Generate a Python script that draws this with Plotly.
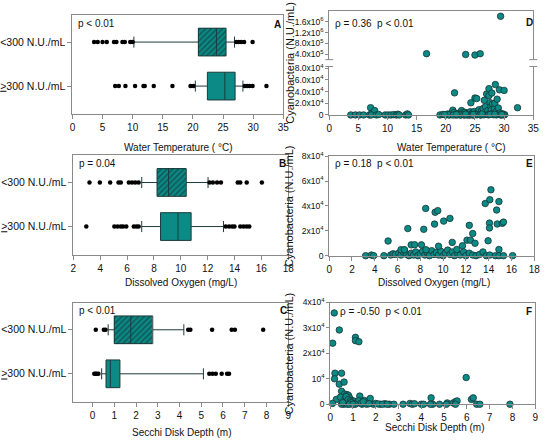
import plotly.graph_objects as go

W, H = 550, 446
TEAL = "#0b8a86"
DARK = "#1d3b3a"
GRAY = "#8a8a8a"
FONT = "Liberation Sans, Arial, sans-serif"

# ---- box plot summaries: [lower whisker, q1, median, q3, upper whisker]
temp_low_stats = [10.2, 20.9, 23.9, 25.5, 26.9]
temp_high_stats = [20.4, 22.4, 25.3, 27.0, 28.3]
temp_low_out = [3.6, 4.2, 5.0, 5.7, 6.9, 7.3, 8.3, 8.7, 9.6, 10.0, 27.2, 27.6, 28.0, 28.5, 29.9]
temp_high_out = [7.1, 7.7, 8.8, 10.4, 11.8, 12.0, 13.5, 16.6, 19.6, 20.1, 28.6, 29.0, 29.4, 29.9, 32.2]

do_low_stats = [7.09, 8.23, 9.09, 10.41, 12.03]
do_high_stats = [7.09, 8.49, 9.79, 10.77, 13.18]
do_low_out = [3.2, 3.97, 4.74, 5.36, 5.53, 6.13, 6.37, 6.61, 6.86,
              12.14, 12.39, 12.7, 12.99, 14.24, 14.43, 14.91, 16.04]
do_high_out = [2.96, 5.05, 5.29, 5.53, 5.7, 5.94, 6.5, 6.69, 6.86,
               13.35, 13.6, 13.83, 14.0, 14.43, 14.67, 14.9, 15.1]

sd_low_stats = [0.72, 1.0, 1.76, 2.77, 4.2]
sd_high_stats = [0.42, 0.62, 0.82, 1.26, 5.1]
sd_low_out = [0.15, 0.52, 0.6, 4.4, 4.5, 5.5, 6.4, 6.55, 7.85]
sd_high_out = [0.08, 0.14, 0.2, 0.27, 5.37, 5.52, 5.67, 5.94, 6.19, 6.28]

group_labels = ["<u>&gt;</u>300 N.U./mL", "&lt;300 N.U./mL"]

# ---- scatter: water temperature vs cyanobacteria
temp_x = [3.7, 4.5, 5.2, 5.9, 6.9, 7.1, 7.3, 7.8, 7.2, 8.1, 8.5, 9.6, 10.1, 10.6, 11.1, 11.5,
          11.8, 12.0, 13.1, 13.4, 13.6,
          19.0, 19.5, 20.0, 20.3, 20.6, 20.9, 21.0, 21.2, 21.4, 21.5, 21.7, 21.9, 22.1, 22.3,
          22.5, 22.7, 22.8, 23.0, 23.2, 23.3, 23.5, 23.7, 23.9, 24.0, 24.2, 24.3, 24.4, 24.6,
          24.8, 24.9, 25.0, 25.1, 25.3, 25.4, 25.6, 25.7, 25.8, 26.0, 26.1, 26.3, 26.4, 26.6,
          26.7, 26.8, 27.0, 27.1, 27.2, 27.4, 27.4, 27.5, 27.6, 27.7, 27.8, 27.9, 28.0, 28.1,
          28.3, 28.4, 28.5, 28.6, 28.8, 28.9, 29.0, 29.2, 29.3, 29.5, 29.7, 30.0, 30.1, 32.3,
          20.5, 21.3, 22.0, 22.6, 23.1, 23.6, 24.1, 24.5, 25.2, 25.9, 26.5, 27.3, 28.2, 28.7,
          29.4, 29.9, 19.8, 21.8, 23.4, 24.7, 26.2, 27.6, 28.4, 29.6]
temp_cyano = [0, 0, 0, 0, 0, 12400, 3000, 7400, 0, 0, 600, 0, 0, 0, 500, 0,
              1200, 0, 0, 1800, 0,
              0, 800, 0, 1500, 0, 2500, 400, 8200, 4200, 37800, 0, 1500, 2800, 600,
              0, 7400, 3500, 1000, 0, 4500, 2000, 500, 3000, 0, 5500, 20800, 1200, 3800,
              0, 6000, 29000, 2000, 28000, 500, 4200, 9000, 1500, 0, 6500, 3000, 11000, 25000,
              1000, 14000, 36000, 4500, 7500, 33000, 45000, 2000, 21000, 14000, 9000, 37500, 19000, 3000,
              10500, 20000, 52000, 6000, 27000, 1500, 12000, 43000, 3500, 0, 2000, 42000, 500, 12400,
              300, 100, 200, 100, 300, 100, 200, 100, 300, 100, 200, 100, 300, 100,
              200, 100, 600, 900, 1300, 700, 1600, 800, 1100, 600]
temp_x_high = [16.7, 23.4, 25.0, 25.9, 29.4]
temp_cyano_high = [420000, 390000, 370000, 420000, 1800000]

# ---- scatter: dissolved oxygen vs cyanobacteria
do_x = [3.2, 3.7, 3.9, 4.8, 5.4, 5.6, 5.8, 6.1, 6.3, 6.5, 6.6, 6.8, 7.0, 7.2, 7.4, 7.6, 7.8,
        8.0, 8.2, 8.4, 8.6, 8.8, 9.0, 9.2, 9.4, 9.6, 9.8, 10.0, 10.2, 10.4, 10.6, 10.8, 11.0,
        11.3, 11.5, 11.8, 12.0, 12.3, 12.6, 12.9, 13.2, 13.5, 13.8, 14.1, 14.6, 14.9, 15.3, 16.1,
        5.17, 6.3, 6.6, 7.2, 7.5, 6.9, 8.1, 8.3, 8.47, 8.5, 9.25, 9.3, 9.53, 9.6, 10.05, 10.6,
        10.8, 11.2, 11.7, 12.1, 12.3, 12.4, 12.6, 12.8, 13.7, 13.95, 14.07, 14.07, 14.1, 14.2,
        14.7, 14.75, 14.9, 14.9, 15.2, 15.3]
do_cyano = [0, 500, 0, 0, 500, 1500, 1000, 2000, 500, 3000, 4500, 1000, 0, 2000, 500, 3000, 0,
            1500, 3500, 500, 2500, 0, 4000, 1000, 2500, 500, 3500, 0, 2000, 4500, 1000, 3000, 0,
            1500, 500, 3000, 0, 2000, 500, 0, 1000, 3000, 0, 500, 0, 0, 0, 0,
            11800, 4800, 4800, 8700, 8800, 21800, 8700, 21200, 38000, 4800, 25400, 34900, 36200, 7600, 27800, 30000,
            10700, 5000, 8000, 12500, 24400, 12500, 17800, 10000, 42000, 12000, 26200, 22300, 45000, 53000,
            36700, 25500, 43500, 5000, 26000, 27000]

# ---- scatter: Secchi disk depth vs cyanobacteria
sd_x = [0.18, 0.4, 0.11, 1.11, 1.11, 1.26, 0.21, 0.19, 0.5, 0.4, 0.61, 0.5, 0.27, 0.1, 0.55, 0.63,
        0.73, 0.8, 0.85, 0.95, 0.7, 0.6, 0.75, 0.9, 1.0, 1.05, 1.2, 1.3, 1.4, 1.5, 1.6, 1.76, 1.9,
        2.0, 2.2, 2.4, 2.6, 2.8, 3.2, 3.5, 3.6, 4.0, 4.1, 4.43, 4.5, 4.8, 5.14, 5.4, 5.5, 5.57,
        5.97, 6.2, 6.28, 6.43, 6.57, 7.89, 0.45, 0.65, 0.7, 0.78, 0.88, 0.92, 1.15, 1.25, 1.35,
        1.45, 2.1, 2.3, 1.7, 1.1, 0.85, 1.0, 0.5, 0.55, 2.5, 3.7, 4.4, 5.1, 5.5]
sd_cyano = [35900, 29200, 24000, 26300, 25000, 24600, 12200, 10000, 12200, 7900, 8700, 5100, 1900, 300, 2500, 4000,
            3800, 3500, 2500, 1500, 1000, 0, 0, 500, 200, 1200, 800, 3200, 0, 1500, 0, 2300, 0,
            300, 0, 200, 0, 0, 0, 300, 0, 0, 0, 2500, 0, 0, 500, 500, 1000, 1300,
            10500, 1900, 2500, 0, 0, 0, 2800, 2000, 3000, 1800, 1200, 600, 300, 1400, 400,
            1000, 100, 0, 200, 0, 0, 0, 0, 600, 0, 200, 0, 0, 0]

fig = go.Figure()


def add_box(ax, pos, stats, outliers, hatched):
    lo, q1, med, q3, hi = stats
    xa, ya = "x" + ax, "y" + ax
    if hatched:
        fig.add_trace(go.Bar(
            x=[q3 - q1], base=[q1], y=[pos], orientation="h", width=0.63,
            xaxis=xa, yaxis=ya, showlegend=False, hoverinfo="skip",
            marker=dict(color=TEAL, line=dict(width=0),
                        pattern=dict(shape="/", fgcolor="#0f2e2d", size=4, solidity=0.45)),
        ))
    fig.add_trace(go.Box(
        q1=[q1], median=[med], q3=[q3], lowerfence=[lo], upperfence=[hi], y=[pos],
        orientation="h", width=0.63, whiskerwidth=0.4, boxpoints=False,
        fillcolor="rgba(0,0,0,0)" if hatched else TEAL,
        line=dict(color=DARK, width=1), xaxis=xa, yaxis=ya, showlegend=False,
    ))
    fig.add_trace(go.Scatter(
        x=outliers, y=[pos] * len(outliers), mode="markers", xaxis=xa, yaxis=ya,
        marker=dict(color="black", size=4.5), showlegend=False, cliponaxis=False,
    ))


add_box("", 1, temp_low_stats, temp_low_out, True)
add_box("", 0, temp_high_stats, temp_high_out, False)
add_box("2", 1, do_low_stats, do_low_out, True)
add_box("2", 0, do_high_stats, do_high_out, False)
add_box("3", 1, sd_low_stats, sd_low_out, True)
add_box("3", 0, sd_high_stats, sd_high_out, False)

dot = dict(color=TEAL, size=6.5, line=dict(color="#163433", width=0.8))
for xs, ys, xa, ya in [(temp_x, temp_cyano, "x4", "y4"), (temp_x_high, temp_cyano_high, "x7", "y7"),
                       (do_x, do_cyano, "x5", "y5"), (sd_x, sd_cyano, "x6", "y6")]:
    fig.add_trace(go.Scatter(x=xs, y=ys, mode="markers", marker=dot, xaxis=xa, yaxis=ya,
                             showlegend=False, cliponaxis=False))


def px(v):
    return v / W


def py(v):
    return 1 - v / H


base = dict(showline=True, linecolor=GRAY, linewidth=1, ticks="outside", ticklen=4,
            tickcolor=GRAY, showgrid=False, zeroline=False,
            tickfont=dict(size=10, color="#111", family=FONT))
right_y = dict(base, mirror=True, ticklen=3, tickfont=dict(size=8.5, color="#111", family=FONT))

cat_y = dict(base, mirror=True, range=[-0.64, 1.62], tickvals=[0, 1], ticktext=group_labels,
             tickfont=dict(size=10.5, color="#111", family=FONT))


def sup_text(m, e):
    return f"{m}x10<sup>{e}</sup>"


fig.update_layout(
    width=W, height=H, margin=dict(l=0, r=0, t=0, b=0),
    paper_bgcolor="white", plot_bgcolor="white",
    font=dict(family=FONT, size=10, color="#111"),
    bargap=0,
    xaxis=dict(base, mirror=True, domain=[px(67), px(283)], anchor="y", range=[0, 35], dtick=5),
    yaxis=dict(cat_y, domain=[py(111), py(9)], anchor="x"),
    xaxis2=dict(base, mirror=True, domain=[px(68), px(288)], anchor="y2", range=[2, 18], dtick=2),
    yaxis2=dict(cat_y, domain=[py(255), py(153)], anchor="x2"),
    xaxis3=dict(base, mirror=True, domain=[px(68), px(288)], anchor="y3", range=[-0.88, 9],
                tickvals=list(range(10))),
    yaxis3=dict(cat_y, domain=[py(406), py(304)], anchor="x3"),
    xaxis4=dict(base, domain=[px(330), px(539)], anchor="y4", range=[0, 35], dtick=5),
    yaxis4=dict(right_y, domain=[py(111.7), py(62)], anchor="x4", range=[0, 83000],
                tickvals=[0, 20000, 40000, 60000, 80000],
                ticktext=["0"] + [sup_text(m, 4) for m in ["2.0", "4.0", "6.0", "8.0"]]),
    xaxis7=dict(base, domain=[px(330), px(539)], anchor="y7", range=[0, 35], side="top",
                ticks="", showticklabels=False),
    yaxis7=dict(right_y, domain=[py(55), py(5)], anchor="x7", range=[200000, 2000000],
                tickvals=[400000, 800000, 1200000, 1600000],
                ticktext=[sup_text("4.0", 5), sup_text("8.0", 5), sup_text("1.2", 6), sup_text("1.6", 6)]),
    xaxis5=dict(base, mirror=True, domain=[px(330), px(540)], anchor="y5", range=[0, 18], dtick=2),
    yaxis5=dict(right_y, domain=[py(256), py(154)], anchor="x5", range=[0, 80000],
                tickvals=[0, 20000, 40000, 60000, 80000],
                ticktext=["0"] + [sup_text(m, 4) for m in ["2", "4", "6", "8"]]),
    xaxis6=dict(base, mirror=True, domain=[px(331), px(541)], anchor="y6", range=[0, 9], dtick=1),
    yaxis6=dict(right_y, domain=[py(408.3), py(304)], anchor="x6", range=[0, 40000],
                tickvals=[0, 10000, 20000, 30000, 40000],
                ticktext=["0", "10<sup>4</sup>", sup_text("2", 4), sup_text("3", 4), sup_text("4", 4)]),
)

# axis break marks on panel D
for bx in (330, 539):
    for by in (55, 62):
        fig.add_shape(type="line", xref="paper", yref="paper",
                      x0=px(bx - 4), x1=px(bx + 4), y0=py(by), y1=py(by),
                      line=dict(color=GRAY, width=1))

notes = [
    (71, 18, "p &lt; 0.01", "left"), (72, 161, "p = 0.04", "left"), (72, 312, "p &lt; 0.01", "left"),
    (334, 18, "ρ = 0.36  p &lt; 0.01", "left"), (334, 161, "ρ = 0.18  p &lt; 0.01", "left"),
    (339, 313, "ρ = -0.50  p &lt; 0.01", "left"),
    (277, 19, "<b>A</b>", "center"), (282, 161, "<b>B</b>", "center"), (283, 312, "<b>C</b>", "center"),
    (535, 17, "<b>D</b>", "center"), (535, 161, "<b>E</b>", "center"), (535, 313, "<b>F</b>", "center"),
    (175, 145, "Water Temperature ( °C)", "center"), (455, 145, "Water Temperature ( °C)", "center"),
    (178, 283, "Dissolved Oxygen (mg/L)", "center"), (437, 283, "Dissolved Oxygen (mg/L)", "center"),
    (179, 437, "Secchi Disk Depth (m)", "center"), (438, 432, "Secchi Disk Depth (m)", "center"),
]
for ax_, ay_, txt, anc in notes:
    fig.add_annotation(x=px(ax_), y=py(ay_), xref="paper", yref="paper", text=txt,
                       showarrow=False, xanchor=anc, yanchor="middle",
                       font=dict(size=10, color="#111", family=FONT))

for ty in (58, 205, 356):
    fig.add_annotation(x=px(289), y=py(ty), xref="paper", yref="paper",
                       text="Cyanobacteria (N.U./mL)", textangle=-90, showarrow=False,
                       xanchor="center", yanchor="middle",
                       font=dict(size=11, color="#111", family=FONT))

# drop the default page margin so the figure sits at the window origin
fig.write_html("out.html", config={"displayModeBar": False},
               post_script="document.body.style.margin='0';"
                           "document.body.style.overflow='hidden';")
